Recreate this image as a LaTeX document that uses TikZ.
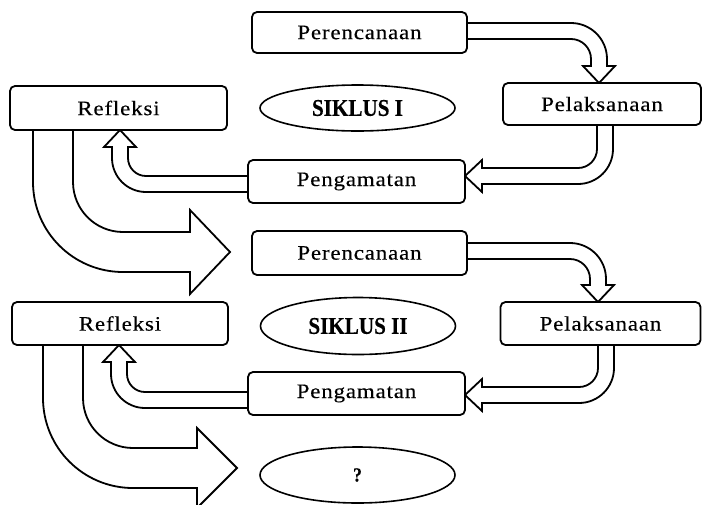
\documentclass[tikz,border=0pt]{standalone}
\usepackage{fontspec}
\setmainfont{Liberation Serif}
\newfontfamily\stagefont[FakeStretch=1.12, LetterSpace=4, FakeBold=0.25]{Liberation Serif}
\newfontfamily\cyclefont[FakeStretch=0.88, BoldFont={Liberation Serif Bold}, BoldFeatures={FakeBold=0.4}]{Liberation Serif}
\usetikzlibrary{shapes.geometric}
\tikzset{
  stagebox/.style={draw=black, fill=white, line width=1.8pt, rounded corners=5pt,
    inner sep=0pt, font=\stagefont\fontsize{20.5}{24}\selectfont},
  cyclebox/.style={draw=black, fill=white, line width=1.6pt, ellipse, inner sep=0pt,
    minimum width=195pt, font=\cyclefont\fontsize{24}{27}\selectfont\bfseries},
  blockarrow/.style={draw=black, fill=white, line width=1.8pt, line join=miter}
}
\begin{document}
\begin{tikzpicture}[x=1pt, y=-1pt]
\useasboundingbox (0,0) rectangle (708,504);
\clip (0,0) rectangle (708,504);

% ---------- cycle I arrows ----------
% Perencanaan -> Pelaksanaan
\draw[blockarrow] (467,23) -- (571,23) .. controls (590.88,23) and (607,39.12) .. (607,59)
  -- (607,66) -- (615,66) -- (599,83) -- (583,66) -- (591,66) -- (591,59)
  .. controls (591,47.95) and (582.05,39) .. (571,39) -- (467,39);
% Pelaksanaan -> Pengamatan
\draw[blockarrow] (613,125) -- (613,149) .. controls (613,168.33) and (597.33,184) .. (578,184)
  -- (482,184) -- (482,192) -- (465,176) -- (482,160) -- (482,168) -- (578,168)
  .. controls (588.49,168) and (597,159.49) .. (597,149) -- (597,125);
% Pengamatan -> Refleksi
\draw[blockarrow] (248,192) -- (146,192) .. controls (127.22,192) and (112,176.78) .. (112,158)
  -- (112,147) -- (104,147) -- (120,130) -- (136,147) -- (128,147) -- (128,158)
  .. controls (128,167.94) and (136.06,176) .. (146,176) -- (248,176);
% Refleksi -> Perencanaan (cycle II)
\draw[blockarrow] (33,130) -- (33,182) .. controls (33,231.71) and (73.29,272) .. (123,272)
  -- (190,272) -- (190,294) -- (230,252) -- (190,210) -- (190,232) -- (123,232)
  .. controls (95.38,232) and (73,209.62) .. (73,182) -- (73,130);

% ---------- cycle II arrows ----------
\draw[blockarrow] (467,243) -- (570,243) .. controls (589.88,243) and (606,259.12) .. (606,279)
  -- (606,285) -- (614,285) -- (598,302) -- (582,285) -- (590,285) -- (590,279)
  .. controls (590,267.95) and (581.05,259) .. (570,259) -- (467,259);
\draw[blockarrow] (614,345) -- (614,368) .. controls (614,387.33) and (598.33,403) .. (579,403)
  -- (482,403) -- (482,411) -- (465,395) -- (482,379) -- (482,387) -- (579,387)
  .. controls (589.49,387) and (598,378.49) .. (598,368) -- (598,345);
\draw[blockarrow] (248,408) -- (145,408) .. controls (126.22,408) and (111,392.78) .. (111,374)
  -- (111,362) -- (103,362) -- (119,345) -- (135,362) -- (127,362) -- (127,374)
  .. controls (127,383.94) and (135.06,392) .. (145,392) -- (248,392);
\draw[blockarrow] (43,345) -- (43,398) .. controls (43,447.71) and (83.29,488) .. (133,488)
  -- (197,488) -- (197,508) -- (237,468) -- (197,428) -- (197,448) -- (133,448)
  .. controls (105.38,448) and (83,425.62) .. (83,398) -- (83,345);

% ---------- cycle I nodes ----------
\node[stagebox, minimum width=215pt, minimum height=41pt] (p1) at (359.5,32.5) {Perencanaan};
\node[stagebox, minimum width=198pt, minimum height=42pt] (l1) at (602,104) {Pelaksanaan};
\node[stagebox, minimum width=217pt, minimum height=44pt] (r1) at (118.5,108) {Refleksi};
\node[stagebox, minimum width=217pt, minimum height=43pt] (g1) at (356.5,181.5) {Pengamatan};
\node[cyclebox, minimum height=46pt] (e1) at (357.5,108) {SIKLUS I};

% ---------- cycle II nodes ----------
\node[stagebox, minimum width=215pt, minimum height=44pt] (p2) at (359.5,253) {Perencanaan};
\node[stagebox, minimum width=200pt, minimum height=43pt] (l2) at (600.5,323.5) {Pelaksanaan};
\node[stagebox, minimum width=216pt, minimum height=43pt] (r2) at (120,323.5) {Refleksi};
\node[stagebox, minimum width=217pt, minimum height=43pt] (g2) at (356.5,393.5) {Pengamatan};
\node[cyclebox, minimum height=57pt] (e2) at (358,326) {SIKLUS II};

% ---------- next ----------
\node[cyclebox, minimum height=56pt, font=\cyclefont\fontsize{20}{23}\selectfont\bfseries] (e3) at (357.5,475) {?};
\end{tikzpicture}
\end{document}
